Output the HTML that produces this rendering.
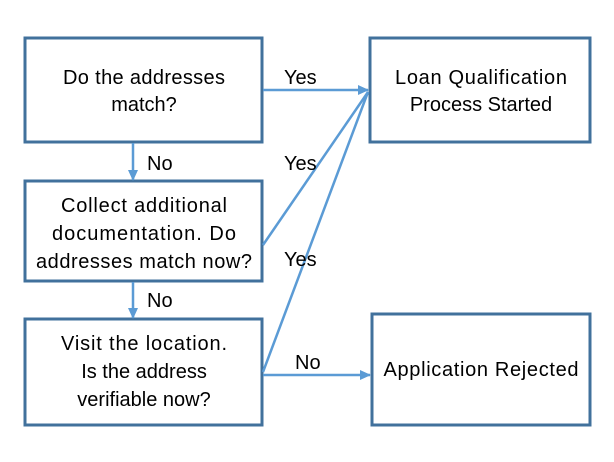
<!DOCTYPE html>
<html><head><style>
body{margin:0;background:#fff;}
svg text{font-family:"Liberation Sans",sans-serif;font-size:20px;fill:#000;}
</style></head><body>
<svg width="614" height="457" xmlns="http://www.w3.org/2000/svg">
<defs><marker id="a" markerWidth="11" markerHeight="10" refX="10" refY="5" orient="auto" markerUnits="userSpaceOnUse"><path d="M0,0 L11,5 L0,10 z" fill="#5B9BD5"/></marker></defs>
<g fill="none" stroke="#41719C" stroke-width="3">
<rect x="25" y="38" width="237" height="104"/>
<rect x="25" y="181" width="237" height="100"/>
<rect x="25" y="319" width="237" height="106"/>
<rect x="370" y="38" width="220" height="104"/>
<rect x="372" y="314" width="218" height="111"/>
</g>
<g stroke="#5B9BD5" stroke-width="2.5" fill="none">
<line x1="263" y1="90" x2="368" y2="90" marker-end="url(#a)"/>
<line x1="263" y1="245" x2="368" y2="92"/>
<line x1="263" y1="372" x2="368" y2="92"/>
<line x1="263" y1="375" x2="370" y2="375" marker-end="url(#a)"/>
<line x1="133" y1="143" x2="133" y2="180" marker-end="url(#a)"/>
<line x1="133" y1="282" x2="133" y2="318" marker-end="url(#a)"/>
</g>
<g text-anchor="middle">
<text x="144" y="84" textLength="162">Do the addresses</text>
<text x="144" y="111">match?</text>
<text x="144" y="212" textLength="166">Collect additional</text>
<text x="144" y="240" textLength="184">documentation. Do</text>
<text x="144" y="268" textLength="216">addresses match now?</text>
<text x="144" y="350" textLength="166">Visit the location.</text>
<text x="144" y="378">Is the address</text>
<text x="144" y="406">verifiable now?</text>
<text x="481" y="84" textLength="172">Loan Qualification</text>
<text x="481" y="111">Process Started</text>
<text x="481" y="376" textLength="195">Application Rejected</text>
</g>
<text x="284" y="84">Yes</text>
<text x="147" y="170">No</text>
<text x="284" y="170">Yes</text>
<text x="284" y="266">Yes</text>
<text x="147" y="307">No</text>
<text x="295" y="369">No</text>
</svg>
</body></html>
